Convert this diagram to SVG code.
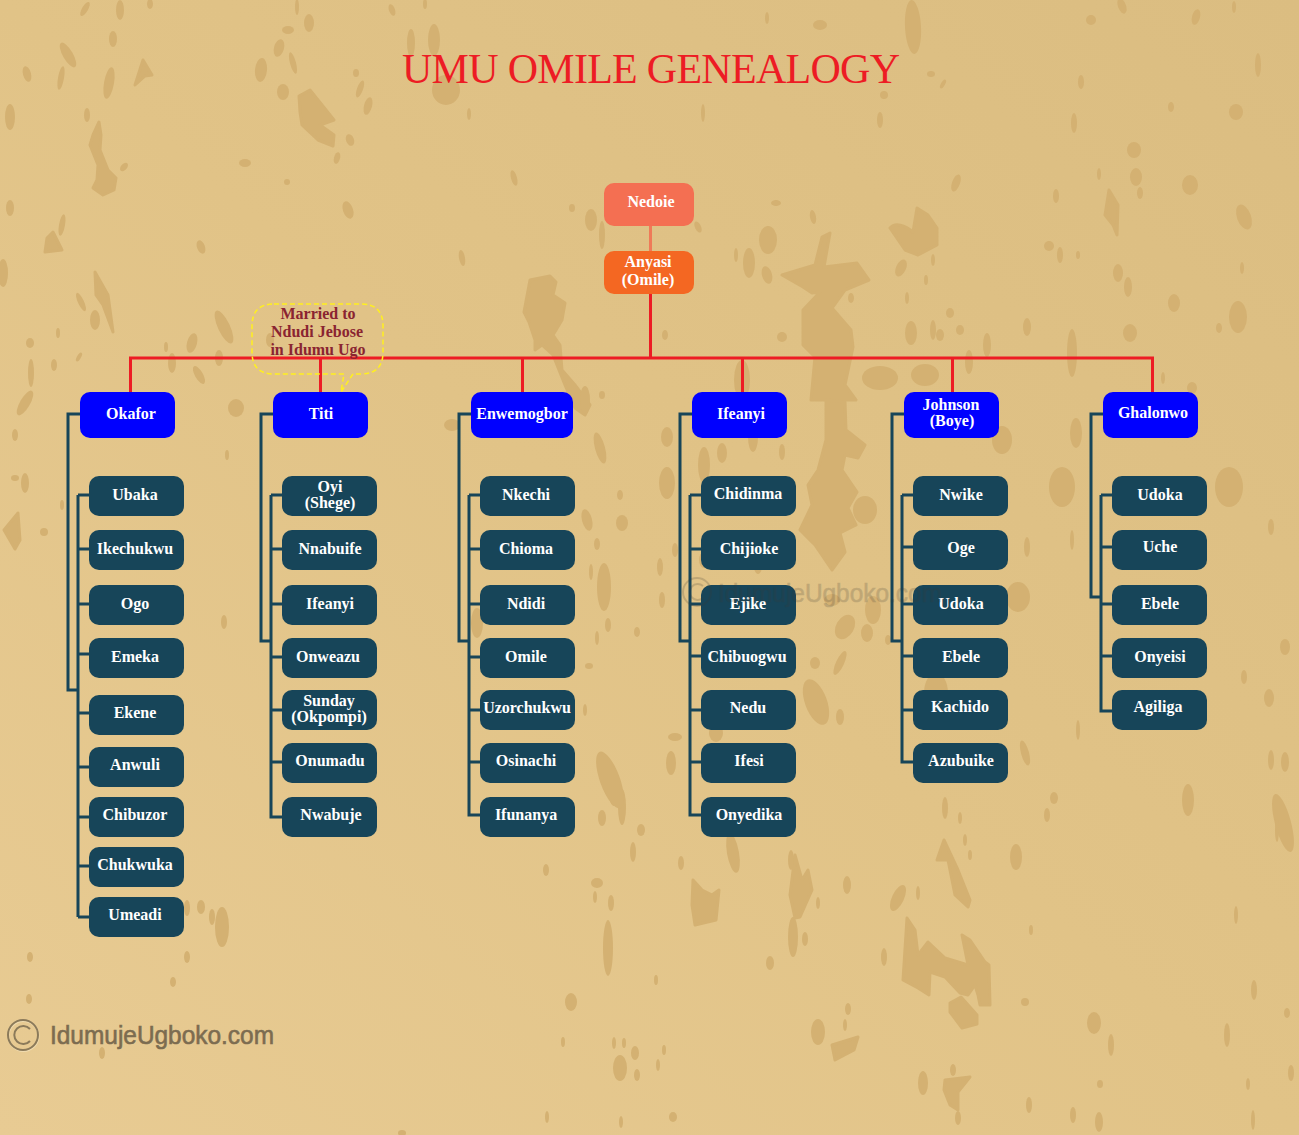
<svg xmlns="http://www.w3.org/2000/svg" width="1299" height="1135" viewBox="0 0 1299 1135">
<style>
.blob{fill:#d4b172}
.blob path{stroke:#d4b172;stroke-width:3;stroke-linejoin:round}
.n text,.t{font-family:"Liberation Serif","Times New Roman",serif;font-weight:700;font-size:16px;fill:#fff;text-anchor:middle}
.c{fill:#174559}
.p{fill:#0000ff}
.dark{fill:none;stroke:#174559;stroke-width:3}
.red{fill:none;stroke:#ed1c24;stroke-width:3}
.wm{font-family:"Liberation Sans",Arial,sans-serif;font-size:26px;stroke-width:.6px}
</style>
<defs>
<linearGradient id="bg" x1="0" y1="1" x2="1" y2="0">
<stop offset="0" stop-color="#e8cb93"/>
<stop offset="0.5" stop-color="#e1c387"/>
<stop offset="1" stop-color="#dbbd81"/>
</linearGradient>
</defs>
<rect id="background" width="1299" height="1135" fill="url(#bg)"/>
<g id="texture" class="blob">
<path d="M530,280L550,276L556,282L553,295L565,303L562,320L553,335L560,345L562,370L575,385L590,405L585,415L575,408L565,385L553,355L542,345L535,350L535,340L529,322L524,312Z"/>
<path d="M299,96L310,90L322,105L334,120L320,125L334,135L333,146L318,140L302,125L300,112Z"/>
<path d="M99,122L101,135L100,150L108,170L116,178L114,190L103,195L93,188L97,180L98,165L90,145L93,135Z"/>
<path d="M143,60L152,75L145,76L135,85Z"/>
<path d="M53,232L62,250L45,252L47,238Z"/>
<path d="M95,272L108,295L113,332L103,305L96,295Z"/>
<path d="M822,237L830,233L824,267L857,263L869,280L845,290L832,308L851,330L853,347L845,385L856,400L811,400L815,357L803,345L803,310L820,292L812,293L803,287L782,275L815,265Z"/>
<path d="M913,232C905,225 895,222 890,228L905,250L918,255L937,245L937,228L928,215L917,208Z"/>
<path d="M1109,190L1118,205L1117,235L1113,225L1105,215Z"/>
<path d="M826,400L845,402L846,430L865,445L858,458L845,455L842,470L857,492L848,508L856,525L840,533L845,552L832,570L815,545L800,530L812,505L808,485L818,470L826,440Z"/>
<path d="M907,918L915,930L918,955L928,942L945,958L968,965L962,935L970,940L985,962L989,965L990,1005L980,1005L978,995L975,985L968,995L960,993L945,977L930,972L929,995L918,988L903,980Z"/>
<path d="M961,997L977,1015L977,1024L962,1028L950,1012V1003Z"/>
<path d="M693,880L702,890L712,895L719,890L716,920L695,925L692,905Z"/>
<path d="M795,855L802,880L808,870L812,890L800,917L795,918L790,895Z"/>
<path d="M944,840L958,870L970,900L968,907L955,895L948,860L937,860Z"/>
<path d="M832,1045L858,1037L854,1050L835,1060Z"/>
<path d="M945,1080L970,1077L958,1092L958,1110L950,1105L944,1090Z"/>
<ellipse cx="85" cy="9" rx="3" ry="8" transform="rotate(30 85 9)"/><ellipse cx="120" cy="10" rx="4" ry="10"/><ellipse cx="113" cy="39" rx="4" ry="8"/><ellipse cx="68" cy="55" rx="5" ry="14" transform="rotate(-30 68 55)"/><ellipse cx="27" cy="74" rx="4" ry="8" transform="rotate(-15 27 74)"/><ellipse cx="61" cy="78" rx="3" ry="12" transform="rotate(10 61 78)"/><ellipse cx="109" cy="83" rx="5" ry="16" transform="rotate(10 109 83)"/><ellipse cx="10" cy="117" rx="5" ry="13"/><ellipse cx="87" cy="115" rx="3" ry="7"/><ellipse cx="124" cy="167" rx="3" ry="5" transform="rotate(40 124 167)"/><ellipse cx="10" cy="208" rx="4" ry="8"/><ellipse cx="62" cy="225" rx="3" ry="11" transform="rotate(10 62 225)"/><ellipse cx="3" cy="273" rx="5" ry="14"/><ellipse cx="81" cy="302" rx="3" ry="10" transform="rotate(-25 81 302)"/><ellipse cx="95" cy="320" rx="5" ry="10"/><ellipse cx="30" cy="343" rx="4" ry="5"/><ellipse cx="58" cy="333" rx="2" ry="5"/><ellipse cx="31" cy="373" rx="3" ry="14"/><ellipse cx="54" cy="365" rx="3" ry="6"/><ellipse cx="79" cy="357" rx="2" ry="5" transform="rotate(30 79 357)"/><ellipse cx="166" cy="347" rx="2" ry="5"/><ellipse cx="172" cy="363" rx="4" ry="10"/><ellipse cx="192" cy="343" rx="5" ry="10" transform="rotate(15 192 343)"/><ellipse cx="199" cy="375" rx="4" ry="10" transform="rotate(-30 199 375)"/><ellipse cx="224" cy="327" rx="6" ry="18" transform="rotate(-25 224 327)"/><ellipse cx="219" cy="358" rx="4" ry="8"/><ellipse cx="270" cy="340" rx="4" ry="7"/><ellipse cx="261" cy="70" rx="6" ry="12" transform="rotate(5 261 70)"/><ellipse cx="279" cy="48" rx="5" ry="9" transform="rotate(15 279 48)"/><ellipse cx="283" cy="92" rx="6" ry="8"/><ellipse cx="293" cy="63" rx="3" ry="11" transform="rotate(-15 293 63)"/><ellipse cx="309" cy="23" rx="5" ry="9"/><ellipse cx="288" cy="30" rx="6" ry="4"/><ellipse cx="392" cy="10" rx="3" ry="6" transform="rotate(-20 392 10)"/><ellipse cx="425" cy="4" rx="2" ry="5"/><ellipse cx="150" cy="4" rx="3" ry="5"/><ellipse cx="297" cy="7" rx="2" ry="8"/><ellipse cx="434" cy="40" rx="6" ry="16"/><ellipse cx="411" cy="43" rx="4" ry="14"/><ellipse cx="446" cy="90" rx="14" ry="15"/><ellipse cx="356" cy="73" rx="3" ry="4"/><ellipse cx="360" cy="89" rx="3" ry="9" transform="rotate(20 360 89)"/><ellipse cx="368" cy="106" rx="4" ry="9" transform="rotate(15 368 106)"/><ellipse cx="350" cy="140" rx="4" ry="6" transform="rotate(-20 350 140)"/><ellipse cx="337" cy="158" rx="3" ry="6" transform="rotate(15 337 158)"/><ellipse cx="245" cy="163" rx="6" ry="4"/><ellipse cx="287" cy="182" rx="3" ry="3"/><ellipse cx="348" cy="210" rx="5" ry="9" transform="rotate(-20 348 210)"/><ellipse cx="201" cy="247" rx="4" ry="7" transform="rotate(-20 201 247)"/><ellipse cx="462" cy="258" rx="3" ry="8" transform="rotate(-10 462 258)"/><ellipse cx="514" cy="178" rx="3" ry="8" transform="rotate(-15 514 178)"/><ellipse cx="469" cy="114" rx="2" ry="6"/><ellipse cx="572" cy="208" rx="3" ry="4"/><ellipse cx="591" cy="220" rx="6" ry="11"/><ellipse cx="602" cy="235" rx="3" ry="14"/>
<ellipse cx="913" cy="27" rx="8" ry="27" transform="rotate(-3 913 27)"/><ellipse cx="1091" cy="20" rx="5" ry="5"/><ellipse cx="1196" cy="17" rx="4" ry="8" transform="rotate(15 1196 17)"/><ellipse cx="1122" cy="6" rx="4" ry="8" transform="rotate(-20 1122 6)"/><ellipse cx="1234" cy="7" rx="2" ry="6"/><ellipse cx="767" cy="18" rx="2" ry="6"/><ellipse cx="820" cy="25" rx="7" ry="5"/><ellipse cx="931" cy="74" rx="4" ry="3"/><ellipse cx="943" cy="84" rx="2" ry="5" transform="rotate(30 943 84)"/><ellipse cx="1081" cy="82" rx="3" ry="7"/><ellipse cx="1258" cy="65" rx="3" ry="12"/><ellipse cx="884" cy="95" rx="4" ry="4"/><ellipse cx="880" cy="120" rx="3" ry="8"/><ellipse cx="703" cy="113" rx="2" ry="9"/><ellipse cx="1074" cy="123" rx="3" ry="10"/><ellipse cx="1171" cy="107" rx="3" ry="5"/><ellipse cx="1236" cy="112" rx="7" ry="8"/><ellipse cx="1134" cy="150" rx="7" ry="8"/><ellipse cx="956" cy="183" rx="4" ry="9" transform="rotate(20 956 183)"/><ellipse cx="1099" cy="174" rx="2" ry="6"/><ellipse cx="1136" cy="177" rx="6" ry="9"/><ellipse cx="1190" cy="185" rx="8" ry="10"/><ellipse cx="1140" cy="193" rx="3" ry="6"/><ellipse cx="1056" cy="196" rx="3" ry="7"/><ellipse cx="1244" cy="217" rx="7" ry="13" transform="rotate(-20 1244 217)"/><ellipse cx="813" cy="217" rx="3" ry="7" transform="rotate(-10 813 217)"/><ellipse cx="776" cy="203" rx="5" ry="3"/><ellipse cx="698" cy="227" rx="3" ry="6" transform="rotate(-25 698 227)"/><ellipse cx="768" cy="240" rx="9" ry="14"/><ellipse cx="749" cy="263" rx="6" ry="15"/><ellipse cx="736" cy="255" rx="2" ry="7"/><ellipse cx="767" cy="275" rx="5" ry="9" transform="rotate(-15 767 275)"/><ellipse cx="1049" cy="246" rx="5" ry="5"/><ellipse cx="1060" cy="255" rx="3" ry="8"/><ellipse cx="1078" cy="255" rx="2" ry="4"/><ellipse cx="1118" cy="273" rx="5" ry="9"/><ellipse cx="1128" cy="287" rx="4" ry="10"/><ellipse cx="1242" cy="268" rx="2" ry="6"/><ellipse cx="901" cy="268" rx="5" ry="9" transform="rotate(25 901 268)"/><ellipse cx="933" cy="260" rx="2" ry="6"/><ellipse cx="926" cy="280" rx="2" ry="5"/><ellipse cx="907" cy="298" rx="2" ry="6"/><ellipse cx="851" cy="298" rx="3" ry="5"/><ellipse cx="950" cy="313" rx="4" ry="5"/><ellipse cx="960" cy="330" rx="4" ry="5"/><ellipse cx="911" cy="333" rx="6" ry="12"/><ellipse cx="933" cy="330" rx="3" ry="10"/><ellipse cx="940" cy="335" rx="4" ry="6"/><ellipse cx="987" cy="345" rx="4" ry="12"/><ellipse cx="1027" cy="327" rx="4" ry="9"/><ellipse cx="1072" cy="353" rx="5" ry="24"/><ellipse cx="1130" cy="333" rx="7" ry="9"/><ellipse cx="1174" cy="303" rx="6" ry="9"/><ellipse cx="1238" cy="317" rx="9" ry="16"/><ellipse cx="1219" cy="328" rx="3" ry="5"/><ellipse cx="969" cy="362" rx="4" ry="12"/><ellipse cx="1163" cy="378" rx="2" ry="6"/><ellipse cx="1192" cy="388" rx="5" ry="6"/><ellipse cx="665" cy="335" rx="3" ry="5"/><ellipse cx="782" cy="337" rx="5" ry="5"/><ellipse cx="742" cy="380" rx="8" ry="20"/><ellipse cx="880" cy="378" rx="18" ry="12"/><ellipse cx="925" cy="375" rx="14" ry="11"/>
<ellipse cx="667" cy="437" rx="6" ry="10"/><ellipse cx="704" cy="465" rx="6" ry="18"/><ellipse cx="667" cy="483" rx="8" ry="16"/><ellipse cx="722" cy="453" rx="5" ry="10"/><ellipse cx="753" cy="437" rx="5" ry="15"/><ellipse cx="782" cy="452" rx="3" ry="8"/><ellipse cx="1002" cy="440" rx="10" ry="14"/><ellipse cx="981" cy="410" rx="5" ry="12"/><ellipse cx="1076" cy="433" rx="6" ry="15"/><ellipse cx="865" cy="510" rx="12" ry="14"/><ellipse cx="845" cy="627" rx="9" ry="13" transform="rotate(30 845 627)"/><ellipse cx="873" cy="610" rx="8" ry="14"/><ellipse cx="1018" cy="597" rx="12" ry="15"/><ellipse cx="1062" cy="487" rx="13" ry="20"/><ellipse cx="1229" cy="487" rx="14" ry="20"/><ellipse cx="1271" cy="527" rx="3" ry="8"/><ellipse cx="1285" cy="647" rx="5" ry="8"/><ellipse cx="1244" cy="677" rx="3" ry="7"/><ellipse cx="1269" cy="698" rx="5" ry="9"/><ellipse cx="1271" cy="760" rx="3" ry="10"/><ellipse cx="1285" cy="762" rx="4" ry="10"/><ellipse cx="1025" cy="753" rx="4" ry="13" transform="rotate(-15 1025 753)"/><ellipse cx="1078" cy="730" rx="2" ry="10"/><ellipse cx="815" cy="663" rx="5" ry="6"/><ellipse cx="840" cy="663" rx="4" ry="13" transform="rotate(25 840 663)"/><ellipse cx="816" cy="702" rx="11" ry="24" transform="rotate(-20 816 702)"/><ellipse cx="840" cy="717" rx="4" ry="8"/><ellipse cx="936" cy="693" rx="12" ry="20"/><ellipse cx="675" cy="737" rx="7" ry="4"/><ellipse cx="671" cy="763" rx="5" ry="12"/><ellipse cx="716" cy="733" rx="7" ry="9"/><ellipse cx="662" cy="600" rx="3" ry="8"/><ellipse cx="675" cy="550" rx="3" ry="7"/><ellipse cx="660" cy="567" rx="3" ry="9"/><ellipse cx="704" cy="560" rx="5" ry="8"/><ellipse cx="758" cy="560" rx="5" ry="14"/><ellipse cx="832" cy="600" rx="8" ry="6"/><ellipse cx="888" cy="640" rx="3" ry="5"/><ellipse cx="867" cy="633" rx="6" ry="9"/><ellipse cx="1027" cy="547" rx="3" ry="10"/><ellipse cx="1072" cy="540" rx="2" ry="10"/>
<ellipse cx="733" cy="853" rx="6" ry="20" transform="rotate(-10 733 853)"/><ellipse cx="681" cy="863" rx="3" ry="7"/><ellipse cx="791" cy="860" rx="3" ry="10"/><ellipse cx="847" cy="885" rx="4" ry="9"/><ellipse cx="818" cy="903" rx="2" ry="6"/><ellipse cx="793" cy="937" rx="5" ry="20"/><ellipse cx="805" cy="939" rx="3" ry="7"/><ellipse cx="770" cy="963" rx="4" ry="7"/><ellipse cx="945" cy="808" rx="3" ry="11"/><ellipse cx="960" cy="818" rx="2" ry="6"/><ellipse cx="965" cy="840" rx="2" ry="6"/><ellipse cx="970" cy="855" rx="2" ry="5"/><ellipse cx="1016" cy="857" rx="6" ry="13"/><ellipse cx="898" cy="898" rx="6" ry="14" transform="rotate(25 898 898)"/><ellipse cx="918" cy="893" rx="2" ry="7"/><ellipse cx="818" cy="1032" rx="7" ry="13"/><ellipse cx="848" cy="1009" rx="3" ry="6"/><ellipse cx="845" cy="1025" rx="2" ry="6"/><ellipse cx="923" cy="1083" rx="5" ry="12"/><ellipse cx="953" cy="1070" rx="3" ry="6"/><ellipse cx="958" cy="1118" rx="3" ry="7"/><ellipse cx="1029" cy="1105" rx="3" ry="8"/><ellipse cx="1073" cy="1115" rx="3" ry="8"/><ellipse cx="1099" cy="1122" rx="4" ry="10"/><ellipse cx="1100" cy="1084" rx="3" ry="4"/><ellipse cx="1025" cy="1002" rx="4" ry="4"/><ellipse cx="1094" cy="1023" rx="7" ry="11"/><ellipse cx="1111" cy="1045" rx="3" ry="11"/><ellipse cx="1188" cy="800" rx="6" ry="16"/><ellipse cx="1236" cy="915" rx="2" ry="9"/><ellipse cx="1227" cy="1035" rx="3" ry="12"/><ellipse cx="1254" cy="990" rx="3" ry="10"/><ellipse cx="1287" cy="1013" rx="3" ry="5"/><ellipse cx="1283" cy="823" rx="8" ry="30" transform="rotate(-15 1283 823)"/><ellipse cx="1277" cy="830" rx="2" ry="12"/><ellipse cx="1291" cy="1073" rx="3" ry="8"/><ellipse cx="1248" cy="1084" rx="2" ry="6"/><ellipse cx="1253" cy="1120" rx="2" ry="10"/><ellipse cx="1054" cy="798" rx="4" ry="6"/><ellipse cx="1047" cy="815" rx="3" ry="7"/><ellipse cx="673" cy="1117" rx="4" ry="5"/><ellipse cx="656" cy="980" rx="2" ry="5"/><ellipse cx="664" cy="1050" rx="2" ry="5"/><ellipse cx="658" cy="1065" rx="2" ry="6"/><ellipse cx="884" cy="957" rx="3" ry="9"/><ellipse cx="1031" cy="930" rx="2" ry="5"/>
<ellipse cx="187" cy="908" rx="3" ry="8"/><ellipse cx="201" cy="907" rx="4" ry="7"/><ellipse cx="212" cy="917" rx="3" ry="8"/><ellipse cx="222" cy="927" rx="7" ry="20"/><ellipse cx="30" cy="957" rx="3" ry="5"/><ellipse cx="187" cy="957" rx="3" ry="6"/><ellipse cx="173" cy="982" rx="3" ry="5"/><ellipse cx="29" cy="999" rx="3" ry="5"/><ellipse cx="102" cy="1053" rx="3" ry="6"/><ellipse cx="546" cy="870" rx="3" ry="6"/><ellipse cx="597" cy="883" rx="6" ry="5"/><ellipse cx="595" cy="897" rx="2" ry="6"/><ellipse cx="611" cy="903" rx="3" ry="8"/><ellipse cx="608" cy="948" rx="5" ry="28"/><ellipse cx="571" cy="1002" rx="6" ry="9"/><ellipse cx="563" cy="1042" rx="2" ry="5"/><ellipse cx="614" cy="1043" rx="2" ry="6"/><ellipse cx="624" cy="1043" rx="2" ry="5"/><ellipse cx="635" cy="1053" rx="4" ry="7"/><ellipse cx="620" cy="1068" rx="7" ry="13"/><ellipse cx="637" cy="1075" rx="3" ry="6"/><ellipse cx="547" cy="1117" rx="2" ry="6"/><ellipse cx="621" cy="1122" rx="2" ry="6"/><ellipse cx="614" cy="793" rx="5" ry="13"/><ellipse cx="622" cy="807" rx="4" ry="18"/><ellipse cx="602" cy="818" rx="4" ry="8"/><ellipse cx="633" cy="852" rx="3" ry="10"/><ellipse cx="641" cy="830" rx="4" ry="6"/><ellipse cx="402" cy="1133" rx="4" ry="3"/>
<ellipse cx="25" cy="403" rx="5" ry="14" transform="rotate(30 25 403)"/><ellipse cx="15" cy="435" rx="3" ry="6"/><ellipse cx="25" cy="483" rx="4" ry="10"/><ellipse cx="15" cy="478" rx="4" ry="3"/><ellipse cx="62" cy="505" rx="2" ry="5"/><path d="M18,513L20,540L15,549L4,530Z"/><ellipse cx="44" cy="532" rx="4" ry="4"/><ellipse cx="236" cy="408" rx="8" ry="9"/><ellipse cx="227" cy="455" rx="2" ry="5"/><ellipse cx="224" cy="622" rx="3" ry="7"/><ellipse cx="452" cy="425" rx="8" ry="6"/><ellipse cx="600" cy="448" rx="5" ry="16" transform="rotate(-15 600 448)"/><ellipse cx="620" cy="495" rx="3" ry="5"/><ellipse cx="587" cy="520" rx="5" ry="11" transform="rotate(-15 587 520)"/><ellipse cx="622" cy="523" rx="6" ry="8"/><ellipse cx="597" cy="544" rx="3" ry="6"/><ellipse cx="604" cy="587" rx="7" ry="24"/><ellipse cx="591" cy="572" rx="2" ry="8"/><ellipse cx="477" cy="623" rx="6" ry="15"/><ellipse cx="608" cy="625" rx="3" ry="7"/><ellipse cx="597" cy="638" rx="2" ry="7"/><ellipse cx="589" cy="666" rx="4" ry="3"/><ellipse cx="637" cy="632" rx="3" ry="5"/><ellipse cx="585" cy="710" rx="2" ry="6"/><ellipse cx="610" cy="780" rx="10" ry="30" transform="rotate(-20 610 780)"/><ellipse cx="585" cy="400" rx="5" ry="14"/><ellipse cx="602" cy="395" rx="3" ry="4"/>
</g>
<g id="connectors">
<path d="M650.5,226V251" fill="none" stroke="#ef7a58" stroke-width="3"/>
<path class="red" d="M650.5,294V358M130.500,392V358H1152.500V392M320.500,358V392M522.500,358V392M742.500,358V392M952.500,358V392"/>
<path class="dark" d="M80,414H68V690H78M78,495V917M89,495H78M89,549H78M89,604H78M89,654H78M89,713H78M89,767H78M89,817H78M89,866H78M89,917H78"/>
<path class="dark" d="M273,414H261V641H271M271,495V817H282M282,495H271M282,549H271M282,604H271M282,657H271M282,710H271M282,762H271"/>
<path class="dark" d="M471,414H459V641H469M469,495V815H480M480,495H469M480,549H469M480,604H469M480,657H469M480,710H469M480,762H469"/>
<path class="dark" d="M692,414H680V641H690M690,495V815H701M701,495H690M701,549H690M701,604H690M701,656H690M701,710H690M701,762H690"/>
<path class="dark" d="M904,414H892V641H902M902,495V762H913M913,495H902M913,547H902M913,604H902M913,656H902M913,710H902"/>
<path class="dark" d="M1103,414H1091V597H1101M1101,495V711H1112M1112,495H1101M1112,547H1101M1112,604H1101M1112,656H1101"/>
</g>
<g id="callout">
<path d="M274,304H361Q383,304 383,326V352Q383,374 361,374H353L341,392L344,374H274Q252,374 252,352V326Q252,304 274,304Z" fill="none" stroke="#fff01f" stroke-width="1.500" stroke-dasharray="5 3"/>
<text class="t" style="fill:#8a2431" x="318" y="319">Married to</text>
<text class="t" style="fill:#8a2431" x="317" y="337">Ndudi Jebose</text>
<text class="t" style="fill:#8a2431" x="318" y="355">in Idumu Ugo</text>
</g>
<text id="title" x="402" y="83" textLength="498" lengthAdjust="spacing" font-family="'Liberation Serif','Times New Roman',serif" font-size="42" fill="#ed1c24">UMU OMILE GENEALOGY</text>
<g class="n">
<g id="n-nedoie"><rect x="604" y="183" width="90" height="43" rx="10" fill="#f46f52"/><text x="651" y="207">Nedoie</text></g>
<g id="n-anyasi"><rect x="604" y="251" width="90" height="43" rx="10" fill="#f46722"/><text x="648" y="267">Anyasi</text><text x="648" y="285">(Omile)</text></g>
<g id="n-okafor"><rect class="p" x="80" y="392" width="95" height="46" rx="10"/><text x="131" y="419">Okafor</text></g>
<g id="n-titi"><rect class="p" x="273" y="392" width="95" height="46" rx="10"/><text x="321" y="419">Titi</text></g>
<g id="n-enwemogbor"><rect class="p" x="471" y="392" width="102" height="46" rx="10"/><text x="522" y="419">Enwemogbor</text></g>
<g id="n-ifeanyi"><rect class="p" x="692" y="392" width="95" height="46" rx="10"/><text x="741" y="419">Ifeanyi</text></g>
<g id="n-johnson"><rect class="p" x="904" y="392" width="95" height="46" rx="10"/><text x="951" y="410">Johnson</text><text x="952" y="426">(Boye)</text></g>
<g id="n-ghalonwo"><rect class="p" x="1103" y="392" width="95" height="46" rx="10"/><text x="1153" y="418">Ghalonwo</text></g>
<g id="n-ubaka"><rect class="c" x="89" y="476" width="95" height="40" rx="10"/><text x="135" y="500">Ubaka</text></g>
<g id="n-ikechukwu"><rect class="c" x="89" y="530" width="95" height="40" rx="10"/><text x="135" y="554">Ikechukwu</text></g>
<g id="n-ogo"><rect class="c" x="89" y="585" width="95" height="40" rx="10"/><text x="135" y="609">Ogo</text></g>
<g id="n-emeka"><rect class="c" x="89" y="638" width="95" height="40" rx="10"/><text x="135" y="662">Emeka</text></g>
<g id="n-ekene"><rect class="c" x="89" y="695" width="95" height="40" rx="10"/><text x="135" y="718">Ekene</text></g>
<g id="n-anwuli"><rect class="c" x="89" y="747" width="95" height="40" rx="10"/><text x="135" y="770">Anwuli</text></g>
<g id="n-chibuzor"><rect class="c" x="89" y="797" width="95" height="40" rx="10"/><text x="135" y="820">Chibuzor</text></g>
<g id="n-chukwuka"><rect class="c" x="89" y="847" width="95" height="40" rx="10"/><text x="135" y="870">Chukwuka</text></g>
<g id="n-umeadi"><rect class="c" x="89" y="897" width="95" height="40" rx="10"/><text x="135" y="920">Umeadi</text></g>
<g id="n-oyi"><rect class="c" x="282" y="476" width="95" height="40" rx="10"/><text x="330" y="492">Oyi</text><text x="330" y="508">(Shege)</text></g>
<g id="n-nnabuife"><rect class="c" x="282" y="530" width="95" height="40" rx="10"/><text x="330" y="554">Nnabuife</text></g>
<g id="n-ifeanyi2"><rect class="c" x="282" y="585" width="95" height="40" rx="10"/><text x="330" y="609">Ifeanyi</text></g>
<g id="n-onweazu"><rect class="c" x="282" y="638" width="95" height="40" rx="10"/><text x="328" y="662">Onweazu</text></g>
<g id="n-sunday"><rect class="c" x="282" y="690" width="95" height="40" rx="10"/><text x="329" y="706">Sunday</text><text x="329" y="722">(Okpompi)</text></g>
<g id="n-onumadu"><rect class="c" x="282" y="743" width="95" height="40" rx="10"/><text x="330" y="766">Onumadu</text></g>
<g id="n-nwabuje"><rect class="c" x="282" y="797" width="95" height="40" rx="10"/><text x="331" y="820">Nwabuje</text></g>
<g id="n-nkechi"><rect class="c" x="480" y="476" width="95" height="40" rx="10"/><text x="526" y="500">Nkechi</text></g>
<g id="n-chioma"><rect class="c" x="480" y="530" width="95" height="40" rx="10"/><text x="526" y="554">Chioma</text></g>
<g id="n-ndidi"><rect class="c" x="480" y="585" width="95" height="40" rx="10"/><text x="526" y="609">Ndidi</text></g>
<g id="n-omile"><rect class="c" x="480" y="638" width="95" height="40" rx="10"/><text x="526" y="662">Omile</text></g>
<g id="n-uzorchukwu"><rect class="c" x="480" y="690" width="95" height="40" rx="10"/><text x="527" y="713">Uzorchukwu</text></g>
<g id="n-osinachi"><rect class="c" x="480" y="743" width="95" height="40" rx="10"/><text x="526" y="766">Osinachi</text></g>
<g id="n-ifunanya"><rect class="c" x="480" y="797" width="95" height="40" rx="10"/><text x="526" y="820">Ifunanya</text></g>
<g id="n-chidinma"><rect class="c" x="701" y="476" width="95" height="40" rx="10"/><text x="748" y="499">Chidinma</text></g>
<g id="n-chijioke"><rect class="c" x="701" y="530" width="95" height="40" rx="10"/><text x="749" y="554">Chijioke</text></g>
<g id="n-ejike"><rect class="c" x="701" y="585" width="95" height="40" rx="10"/><text x="748" y="609">Ejike</text></g>
<g id="n-chibuogwu"><rect class="c" x="701" y="638" width="95" height="40" rx="10"/><text x="747" y="662">Chibuogwu</text></g>
<g id="n-nedu"><rect class="c" x="701" y="690" width="95" height="40" rx="10"/><text x="748" y="713">Nedu</text></g>
<g id="n-ifesi"><rect class="c" x="701" y="743" width="95" height="40" rx="10"/><text x="749" y="766">Ifesi</text></g>
<g id="n-onyedika"><rect class="c" x="701" y="797" width="95" height="40" rx="10"/><text x="749" y="820">Onyedika</text></g>
<g id="n-nwike"><rect class="c" x="913" y="476" width="95" height="40" rx="10"/><text x="961" y="500">Nwike</text></g>
<g id="n-oge"><rect class="c" x="913" y="530" width="95" height="40" rx="10"/><text x="961" y="553">Oge</text></g>
<g id="n-udoka"><rect class="c" x="913" y="585" width="95" height="40" rx="10"/><text x="961" y="609">Udoka</text></g>
<g id="n-ebele"><rect class="c" x="913" y="638" width="95" height="40" rx="10"/><text x="961" y="662">Ebele</text></g>
<g id="n-kachido"><rect class="c" x="913" y="690" width="95" height="40" rx="10"/><text x="960" y="712">Kachido</text></g>
<g id="n-azubuike"><rect class="c" x="913" y="743" width="95" height="40" rx="10"/><text x="961" y="766">Azubuike</text></g>
<g id="n-udoka2"><rect class="c" x="1112" y="476" width="95" height="40" rx="10"/><text x="1160" y="500">Udoka</text></g>
<g id="n-uche"><rect class="c" x="1112" y="530" width="95" height="40" rx="10"/><text x="1160" y="552">Uche</text></g>
<g id="n-ebele2"><rect class="c" x="1112" y="585" width="95" height="40" rx="10"/><text x="1160" y="609">Ebele</text></g>
<g id="n-onyeisi"><rect class="c" x="1112" y="638" width="95" height="40" rx="10"/><text x="1160" y="662">Onyeisi</text></g>
<g id="n-agiliga"><rect class="c" x="1112" y="690" width="95" height="40" rx="10"/><text x="1158" y="712">Agiliga</text></g>
</g>
<g id="watermark-centre" opacity="0.2" fill="#3d3a33" stroke="#3d3a33">
<circle cx="697" cy="592" r="14" fill="none" stroke-width="2"/>
<path d="M703,586A8,8 0 1 0 703,598" fill="none" stroke-width="2"/>
<text class="wm" x="718" y="602" textLength="224" lengthAdjust="spacingAndGlyphs">IdumujeUgboko.com</text>
</g>
<g id="watermark">
<circle cx="23.500" cy="1036" r="15" fill="none" stroke="#f0dcb0" stroke-width="2"/>
<circle cx="23" cy="1035" r="15" fill="none" stroke="#8b7a5a" stroke-width="2"/>
<path d="M30,1029A9,9 0 1 0 30,1041" fill="none" stroke="#8b7a5a" stroke-width="2"/>
<text class="wm" x="50" y="1044" textLength="224" lengthAdjust="spacingAndGlyphs" fill="#7c6c50" stroke="#7c6c50">IdumujeUgboko.com</text>
</g>
</svg>
